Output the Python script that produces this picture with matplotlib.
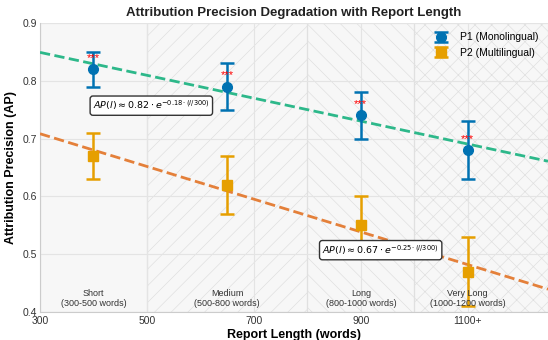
import numpy as np
import matplotlib.pyplot as plt
from matplotlib.patches import Rectangle

lengths = [400, 650, 900, 1100]
p1_ap = [0.82, 0.79, 0.74, 0.68]
p1_err = [0.03, 0.04, 0.04, 0.05]
p2_ap = [0.67, 0.62, 0.55, 0.47]
p2_err = [0.04, 0.05, 0.05, 0.06]
regions = [(300, 500), (500, 800), (800, 1000), (1000, 1250)]
region_hatches = [None, '//', '\\\\', 'xx']
region_labels = ["Short\n(300-500 words)", "Medium\n(500-800 words)",
                 "Long\n(800-1000 words)", "Very Long\n(1000-1200 words)"]
xticks = [300, 500, 700, 900, 1100]
xticklabels = ['300', '500', '700', '900', '1100+']
yticks = [0.4, 0.5, 0.6, 0.7, 0.8, 0.9]

plt.rcParams['font.family'] = ['Liberation Sans', 'DejaVu Sans']
plt.rcParams['hatch.color'] = '#e8e8e8'
plt.rcParams['hatch.linewidth'] = 0.5

fig = plt.figure(figsize=(5.48, 3.4), dpi=100)
ax = fig.add_axes([40/548, 1-312/340, 508/548, 289/340])
ax.set_facecolor('#f7f7f7')

for (a, b), h in zip(regions, region_hatches):
    ax.add_patch(Rectangle((a, 0.4), b - a, 0.5, facecolor='none',
                           hatch=h, edgecolor='#e0e0e0', linewidth=0.8, zorder=0))

ax.grid(True, color='#e4e4e4', linewidth=0.8, zorder=0.5)
ax.set_axisbelow(True)

c1 = '#0072B2'
c2 = '#E69F00'
ax.errorbar(lengths, p1_ap, yerr=p1_err, fmt='o', color=c1, markersize=7,
            capsize=5, elinewidth=1.8, capthick=1.8, label='P1 (Monolingual)', zorder=4)
ax.errorbar(lengths, p2_ap, yerr=p2_err, fmt='s', color=c2, markersize=7,
            capsize=5, elinewidth=1.8, capthick=1.8, label='P2 (Multilingual)', zorder=4)

xs = np.linspace(300, 1250, 200)
f1 = np.polyfit(lengths, p1_ap, 1)
f2 = np.polyfit(lengths, p2_ap, 1)
ax.plot(xs, np.polyval(f1, xs), '--', color='#2db88a', linewidth=2, zorder=3)
ax.plot(xs, np.polyval(f2, xs), '--', color='#e4803a', linewidth=2, zorder=3)

for x, y in zip(lengths, p1_ap):
    ax.text(x, y + 0.02, '***', color='red', ha='center', va='center', fontsize=8, zorder=5)

box = dict(boxstyle='round,pad=0.3', facecolor='white', edgecolor='#333333', linewidth=1)
ax.text(399, 0.757, r'$AP(l) \approx 0.82 \cdot e^{-0.18 \cdot (l/300)}$',
        fontsize=6.8, ha='left', va='center', bbox=box, zorder=6)
ax.text(828, 0.507, r'$AP(l) \approx 0.67 \cdot e^{-0.25 \cdot (l/300)}$',
        fontsize=6.8, ha='left', va='center', bbox=box, zorder=6)

centers = [400, 650, 900, 1100]
for cx, lab in zip(centers, region_labels):
    ax.text(cx, 0.407, lab, ha='center', va='bottom', fontsize=6.5, color='#333333', zorder=5)

ax.set_xlim(300, 1250)
ax.set_ylim(0.4, 0.9)
ax.set_xticks(xticks)
ax.set_xticklabels(xticklabels)
ax.set_yticks(yticks)
ax.tick_params(labelsize=7.5, length=0, colors='#333333')
ax.tick_params(axis='x', pad=3)
ax.tick_params(axis='y', pad=2)
for s in ax.spines.values():
    s.set_color('#cccccc')
ax.spines['top'].set_visible(False)
ax.spines['right'].set_visible(False)

ax.set_xlabel('Report Length (words)', fontsize=9, fontweight='bold', labelpad=2)
ax.set_ylabel('Attribution Precision (AP)', fontsize=9, fontweight='bold', labelpad=4)
ax.set_title('Attribution Precision Degradation with Report Length', fontsize=9.5,
             fontweight='bold', pad=5, color='#222222')

leg = ax.legend(loc='upper right', fontsize=7.5, frameon=False)

fig.savefig('out.png', dpi=100)
